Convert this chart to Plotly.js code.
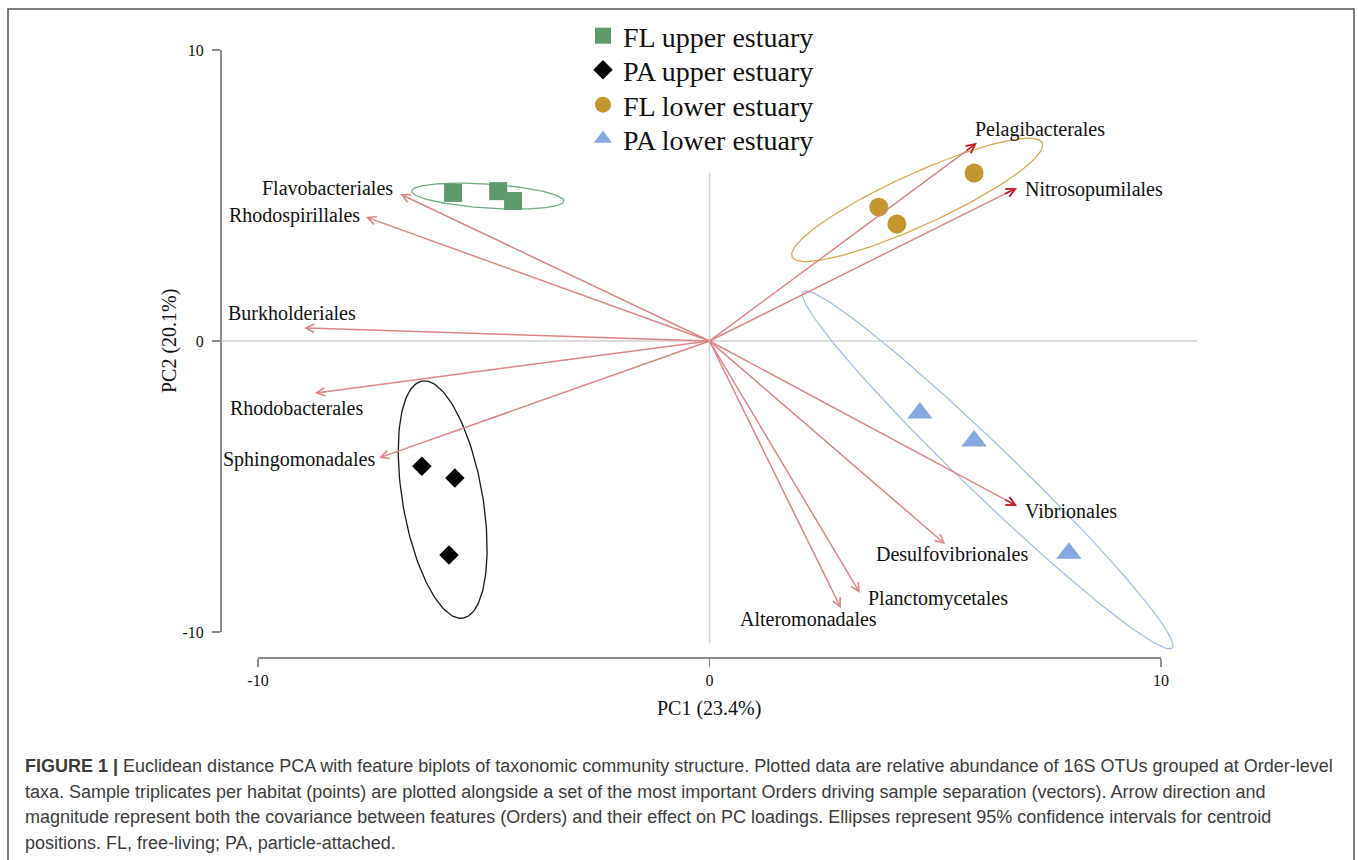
<!DOCTYPE html>
<html><head><meta charset="utf-8">
<script src="https://cdn.plot.ly/plotly-3.0.1.min.js"></script>
<style>html,body{margin:0;padding:0;background:#fff;}#chart{width:1358px;height:860px;}</style>
</head><body><div id="chart"></div>
<script>
// ---------------- DATA ----------------
const groupNames = ['FL upper estuary', 'PA upper estuary', 'FL lower estuary', 'PA lower estuary'];
const flUpperPC1 = [-5.68, -4.68, -4.35];
const flUpperPC2 = [5.09, 5.15, 4.81];
const paUpperPC1 = [-6.37, -5.64, -5.77];
const paUpperPC2 = [-4.30, -4.71, -7.35];
const flLowerPC1 = [3.75, 4.15, 5.86];
const flLowerPC2 = [4.60, 4.02, 5.77];
const paLowerPC1 = [4.66, 5.86, 7.96];
const paLowerPC2 = [-2.47, -3.44, -7.29];

// 95% confidence ellipses: centre, major semi-axis vector, minor semi-axis vector (PC units)
const ellipseCX = [-4.91, -5.91, 4.60, 6.16];
const ellipseCY = [4.98, -5.45, 4.85, -4.43];
const ellipseMajX = [1.683, 0.454, 2.769, 4.086];
const ellipseMajY = [-0.172, -4.072, 1.959, -6.117];
const ellipseMinX = [-0.018, 0.873, 0.239, 0.385];
const ellipseMinY = [-0.411, 0.234, -0.814, 0.619];

// feature (Order) loading vectors
const orders = ['Flavobacteriales', 'Rhodospirillales', 'Burkholderiales', 'Rhodobacterales', 'Sphingomonadales',
  'Pelagibacterales', 'Nitrosopumilales', 'Vibrionales', 'Desulfovibrionales', 'Planctomycetales', 'Alteromonadales'];
const loadPC1 = [-6.85, -7.61, -8.98, -8.74, -7.32, 5.92, 6.81, 6.81, 5.22, 3.33, 2.91];
const loadPC2 = [5.05, 4.26, 0.45, -1.79, -4.02, 6.80, 5.26, -5.67, -6.98, -8.66, -9.18];

const axisTickVals = [-10, 0, 10];
const axisTickText = ['-10', '0', '10'];
const xTitle = 'PC1 (23.4%)';
const yTitle = 'PC2 (20.1%)';
const captionLines = [
  '<b>FIGURE 1 |</b> Euclidean distance PCA with feature biplots of taxonomic community structure. Plotted data are relative abundance of 16S OTUs grouped at Order-level',
  'taxa. Sample triplicates per habitat (points) are plotted alongside a set of the most important Orders driving sample separation (vectors). Arrow direction and',
  'magnitude represent both the covariance between features (Orders) and their effect on PC loadings. Ellipses represent 95% confidence intervals for centroid',
  'positions. FL, free-living; PA, particle-attached.'
];

// ---------------- STYLE / LAYOUT ----------------
const W = 1358, H = 860;
const serif = 'Liberation Serif, Times New Roman, serif';
const sans = 'Liberation Sans, Arial, sans-serif';
const px0 = 709.5, pxPerUnit = 45.15, py0 = 341, pyPerUnit = 29.1;
const fx = p => p / W, fy = p => 1 - p / H;

const groupStyle = [
  {symbol: 'square', size: 18, color: '#5f9a6c', ell: '#6fab80'},
  {symbol: 'diamond', size: 15, color: '#000000', ell: '#1a1a1a'},
  {symbol: 'circle', size: 19, color: '#c4962f', ell: '#d6aa4e'},
  {symbol: 'triangle-up', size: 22, color: '#84a9e0', ell: '#a3c1ea'}
];
const groupX = [flUpperPC1, paUpperPC1, flLowerPC1, paLowerPC1];
const groupY = [flUpperPC2, paUpperPC2, flLowerPC2, paLowerPC2];
const legendIds = ['legend', 'legend2', 'legend3', 'legend4'];
const legendRowY = [36, 70, 105, 139];

// label placement: pixel offsets from arrow tip and anchor side
const labelPlace = {
  'Flavobacteriales': [-5, 6, 'right'],
  'Rhodospirillales': [-4, 2, 'right'],
  'Burkholderiales': [-78, 15, 'left'],
  'Rhodobacterales': [-87, -15, 'left'],
  'Sphingomonadales': [-2, -2, 'right'],
  'Pelagibacterales': [-4, 14, 'left'],
  'Nitrosopumilales': [6, -2, 'left'],
  'Vibrionales': [6, -5, 'left'],
  'Desulfovibrionales': [-71, -10, 'left'],
  'Planctomycetales': [6, -5, 'left'],
  'Alteromonadales': [-103, -11, 'left']
};
const darkHeads = new Set(['Pelagibacterales', 'Nitrosopumilales', 'Vibrionales']);
const arrowLight = '#de8585', arrowDark = '#c41e24';

const traces = [];
for (let g = 0; g < 4; g++) {
  const ex = [], ey = [];
  const N = 160;
  for (let k = 0; k <= N; k++) {
    const t = 2 * Math.PI * k / N;
    ex.push(ellipseCX[g] + ellipseMajX[g] * Math.cos(t) + ellipseMinX[g] * Math.sin(t));
    ey.push(ellipseCY[g] + ellipseMajY[g] * Math.cos(t) + ellipseMinY[g] * Math.sin(t));
  }
  traces.push({type: 'scatter', mode: 'lines', x: ex, y: ey, showlegend: false, hoverinfo: 'skip',
    line: {color: groupStyle[g].ell, width: 1.3}});
}
for (let g = 0; g < 4; g++) {
  traces.push({type: 'scatter', mode: 'markers', name: groupNames[g], x: groupX[g], y: groupY[g],
    legend: legendIds[g], showlegend: true,
    marker: {symbol: groupStyle[g].symbol, size: groupStyle[g].size, color: groupStyle[g].color, line: {width: 0}}});
}
traces.push({type: 'scatter', mode: 'markers', x: [null], y: [null], xaxis: 'x2', yaxis: 'y2', showlegend: false, hoverinfo: 'skip'});

const annotations = [];
orders.forEach((name, i) => {
  annotations.push({x: loadPC1[i], y: loadPC2[i], xref: 'x', yref: 'y', ax: 0, ay: 0, axref: 'x', ayref: 'y',
    text: ' ', font: {size: 1}, showarrow: true, arrowhead: 5, arrowsize: 1.1, arrowwidth: 1.5,
    arrowcolor: arrowLight, standoff: 0, borderpad: 0});
  if (darkHeads.has(name)) {
    annotations.push({x: loadPC1[i], y: loadPC2[i], xref: 'x', yref: 'y', ax: loadPC1[i] * 0.96, ay: loadPC2[i] * 0.96,
      axref: 'x', ayref: 'y', text: ' ', font: {size: 1}, showarrow: true, arrowhead: 5, arrowsize: 1.1, arrowwidth: 1.6,
      arrowcolor: arrowDark, standoff: 0, borderpad: 0});
  }
  const p = labelPlace[name];
  annotations.push({x: loadPC1[i], y: loadPC2[i], xref: 'x', yref: 'y', text: name, showarrow: false,
    xanchor: p[2], yanchor: 'middle', xshift: p[0], yshift: p[1],
    font: {family: serif, size: 20, color: '#111'}});
});
annotations.push({xref: 'paper', yref: 'paper', x: fx(709), y: fy(708), text: xTitle, showarrow: false,
  xanchor: 'center', yanchor: 'middle', font: {family: serif, size: 20, color: '#111'}});
annotations.push({xref: 'paper', yref: 'paper', x: fx(170), y: fy(341), text: yTitle, showarrow: false, textangle: -90,
  xanchor: 'center', yanchor: 'middle', font: {family: serif, size: 20, color: '#111'}});
const capY = [766, 791.5, 817, 842.5];
captionLines.forEach((t, i) => {
  annotations.push({xref: 'paper', yref: 'paper', x: fx(23), y: fy(capY[i]), text: t, showarrow: false,
    xanchor: 'left', yanchor: 'middle', align: 'left', font: {family: sans, size: 18, color: '#3c3c3c'}});
});

const axisGrey = '#8c8c8c';
const layout = {
  width: W, height: H, autosize: false,
  margin: {l: 0, r: 0, t: 0, b: 0, pad: 0},
  paper_bgcolor: '#ffffff', plot_bgcolor: 'rgba(0,0,0,0)',
  showlegend: true,
  xaxis: {domain: [0, 1], range: [-px0 / pxPerUnit, (W - px0) / pxPerUnit], visible: false, fixedrange: true},
  yaxis: {domain: [0, 1], range: [(py0 - H) / pyPerUnit, py0 / pyPerUnit], visible: false, fixedrange: true},
  xaxis2: {domain: [fx(258), fx(1161)], range: [-10, 10], anchor: 'free', position: fy(657),
    showline: true, linecolor: axisGrey, linewidth: 1.5, ticks: 'outside', ticklen: 8, tickwidth: 1.5, tickcolor: axisGrey,
    tickvals: axisTickVals, ticktext: axisTickText, tickfont: {family: serif, size: 16, color: '#111'},
    showgrid: false, zeroline: false, fixedrange: true},
  yaxis2: {domain: [fy(632), fy(50)], range: [-10, 10], anchor: 'free', position: fx(220),
    showline: true, linecolor: axisGrey, linewidth: 1.5, ticks: 'outside', ticklen: 8, tickwidth: 1.5, tickcolor: axisGrey,
    tickvals: axisTickVals, ticktext: axisTickText, tickfont: {family: serif, size: 16, color: '#111'},
    ticklabelstandoff: 5, showgrid: false, zeroline: false, fixedrange: true},
  shapes: [
    {type: 'line', xref: 'x', yref: 'y', x0: (220 - px0) / pxPerUnit, x1: (1197 - px0) / pxPerUnit, y0: 0, y1: 0,
      line: {color: '#d2d2d2', width: 1.5}, layer: 'below'},
    {type: 'line', xref: 'x', yref: 'y', x0: 0, x1: 0, y0: (py0 - 173) / pyPerUnit, y1: (py0 - 643) / pyPerUnit,
      line: {color: '#d2d2d2', width: 1.5}, layer: 'below'},
    {type: 'rect', xref: 'paper', yref: 'paper', x0: fx(8), x1: fx(1354), y0: -0.05, y1: fy(9),
      line: {color: '#555', width: 1.5}, fillcolor: 'rgba(0,0,0,0)'}
  ],
  annotations: annotations
};
legendIds.forEach((id, g) => {
  layout[id] = {x: fx(583), y: fy(legendRowY[g]), xanchor: 'left', yanchor: 'middle', bgcolor: 'rgba(0,0,0,0)',
    font: {family: serif, size: 28, color: '#111'}, itemsizing: 'trace'};
});

Plotly.newPlot('chart', traces, layout, {staticPlot: true, displayModeBar: false});
</script>
</body></html>
